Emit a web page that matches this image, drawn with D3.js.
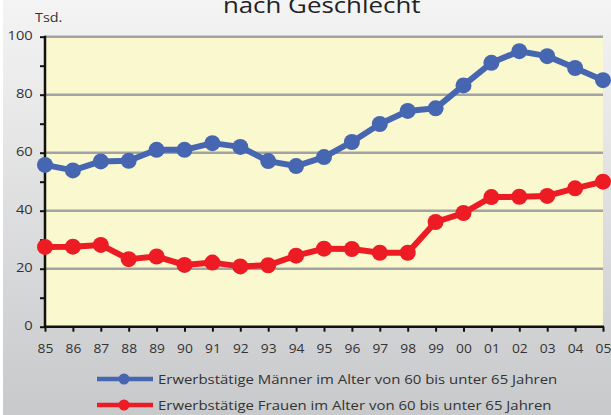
<!DOCTYPE html>
<html><head><meta charset="utf-8">
<script src="https://cdn.jsdelivr.net/npm/d3@7"></script>
<style>html,body{margin:0;padding:0;background:#fff;}svg{display:block;}</style>
</head><body>
<script>
const years = ["85","86","87","88","89","90","91","92","93","94","95","96","97","98","99","00","01","02","03","04","05"];
const maenner = [55.8,53.9,57,57.2,61,61,63.3,62,57.1,55.4,58.5,63.7,69.9,74.4,75.3,83.2,91,95,93.3,89.2,85];
const frauen = [27.5,27.6,28.2,23.3,24.2,21.3,22.1,20.8,21.2,24.5,26.9,26.8,25.5,25.5,36.1,39.2,44.7,44.8,45.1,47.7,50];
const yTicks = [0,20,40,60,80,100];
const yMinor = [10,30,50,70,90];
const seriesNames = ["Erwerbstätige Männer im Alter von 60 bis unter 65 Jahren","Erwerbstätige Frauen im Alter von 60 bis unter 65 Jahren"];
const colors = ["#4766b1","#ed1c24"];

const W=611,H=415;
const SX=1.15;
const svg=d3.select("body").append("svg").attr("width",W).attr("height",H);
const defs=svg.append("defs");
const g=defs.append("linearGradient").attr("id","bg").attr("x1",0).attr("y1",0).attr("x2",0).attr("y2",1);
g.append("stop").attr("offset","0%").attr("stop-color","#f4f4f4");
g.append("stop").attr("offset","100%").attr("stop-color","#c8c9cb");
svg.append("rect").attr("width",W).attr("height",H).attr("fill","url(#bg)");
svg.append("rect").attr("width",3).attr("height",H).attr("fill","#fff");

const font="'Open Sans', sans-serif";
const x=d3.scalePoint().domain(years).range([45,603]);
const y=d3.scaleLinear().domain([0,100]).range([326.7,36.7]);

svg.append("rect").attr("x",45).attr("y",y(100)).attr("width",603-45).attr("height",y(0)-y(100)).attr("fill","#faf8ce");

// grid
svg.append("g").selectAll("line").data(yTicks.filter(d=>d>0)).join("line")
 .attr("x1",45).attr("x2",603).attr("y1",d=>y(d)).attr("y2",d=>y(d))
 .attr("stroke","#a3a3a3").attr("stroke-width",2.5);

// y axis
const yAx=svg.append("g").attr("transform","translate(45,0)")
 .call(d3.axisLeft(y).tickValues(yTicks).tickSize(5).tickPadding(6).tickFormat(d3.format("d")));
yAx.select(".domain").remove();
yAx.selectAll(".tick line").attr("stroke","#111").attr("stroke-width",2);
yAx.selectAll("text").attr("font-family",font).attr("font-size",12.8).attr("fill","#333")
 .attr("x",-12.3/SX).attr("dy","0.22em").attr("transform",`scale(${SX},1)`);
const yMin=svg.append("g").attr("transform","translate(45,0)")
 .call(d3.axisLeft(y).tickValues(yMinor).tickSize(5).tickFormat(""));
yMin.select(".domain").remove();
yMin.selectAll(".tick line").attr("stroke","#111").attr("stroke-width",2);

// x axis
const xAx=svg.append("g").attr("transform",`translate(0,${y(0)})`)
 .call(d3.axisBottom(x).tickSize(5).tickPadding(10));
xAx.select(".domain").remove();
xAx.selectAll(".tick line").attr("stroke","#111").attr("stroke-width",2);
xAx.selectAll("text").attr("font-family",font).attr("font-size",12).attr("fill","#333")
 .attr("y",26.6).attr("dy",0).attr("transform",`scale(${SX},1)`);

svg.append("line").attr("x1",44).attr("x2",604).attr("y1",y(0)).attr("y2",y(0)).attr("stroke","#111").attr("stroke-width",2.5);
svg.append("line").attr("x1",45).attr("x2",45).attr("y1",y(100)-1).attr("y2",y(0)+1).attr("stroke","#111").attr("stroke-width",2.5);

// series
[maenner,frauen].forEach((vals,i)=>{
  const line=d3.line().x((d,j)=>x(years[j])).y(d=>y(d));
  svg.append("path").datum(vals).attr("d",line).attr("fill","none").attr("stroke",colors[i]).attr("stroke-width",6).attr("stroke-linejoin","round");
  svg.append("g").selectAll("circle").data(vals).join("circle")
   .attr("cx",(d,j)=>x(years[j])).attr("cy",d=>y(d)).attr("r",8).attr("fill",colors[i]);
});

// title & unit
function stext(px,py,anchor,size,fill,txt){
  svg.append("text").attr("transform",`translate(${px},${py}) scale(${SX},1)`)
   .attr("text-anchor",anchor).attr("font-family",font).attr("font-size",size).attr("fill",fill).text(txt);
}
stext(321.7,12.7,"middle",22.5,"#222","nach Geschlecht");
stext(35,21.7,"start",12.5,"#333","Tsd.");

// legend
seriesNames.forEach((n,i)=>{
  const ly=[379,405][i];
  svg.append("line").attr("x1",97).attr("x2",153).attr("y1",ly).attr("y2",ly).attr("stroke",colors[i]).attr("stroke-width",4.5);
  svg.append("circle").attr("cx",124).attr("cy",ly).attr("r",5.5).attr("fill",colors[i]);
  stext(158,ly+4.8,"start",13,"#333",n);
});
</script>
</body></html>
